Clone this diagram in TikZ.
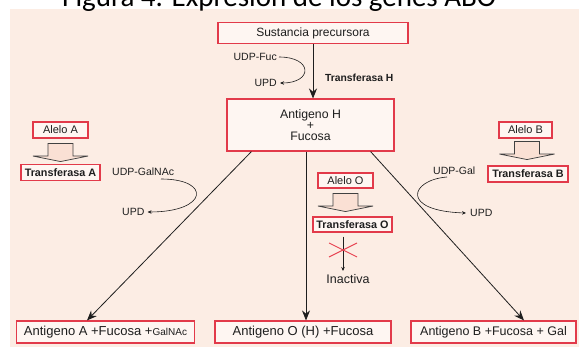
\documentclass[tikz,border=0pt]{standalone}
\usepackage{fontspec}
\setmainfont{Liberation Sans}
\newfontfamily\titlefont{Carlito}
\usetikzlibrary{arrows.meta,calc}
\definecolor{bg}{HTML}{FCEDE4}
\definecolor{boxred}{HTML}{E23A4A}
\definecolor{boxfill}{HTML}{FEF6F2}
\definecolor{blkfill}{HTML}{FAE0D4}
\definecolor{ink}{HTML}{1E1E1E}
\definecolor{xred}{HTML}{E8404F}
\newcommand{\fsz}[1]{\fontsize{#1}{#1}\selectfont}
\begin{document}
\begin{tikzpicture}[x=1pt,y=-1pt,
  rbox/.style={draw=boxred, line width=1.1pt, fill=boxfill, inner sep=0pt, text=ink, align=center},
  lbl/.style={inner sep=0pt, text=ink, font=\fsz{10.5}},
  arr/.style={draw=ink, line width=0.8pt, -{Stealth[length=10pt,width=8pt]}},
  sarr/.style={draw=ink, line width=0.6pt, -{Stealth[length=4pt,width=3.5pt]}},
  blk/.style={draw=ink!85, line width=0.7pt, fill=blkfill, line join=miter},
  blockarr/.pic={\draw[blk] (-12.5,0) -- (12.5,0) -- (12.5,12.5) -- (27.5,12.5) -- (0,18) -- (-27.5,12.5) -- (-12.5,12.5) -- cycle;}]
\useasboundingbox (0,0) rectangle (579,347);
\fill[bg] (10,9) rectangle (579,347);
\node[anchor=base west, inner sep=0pt, text=black, font=\titlefont\fsz{29}] (title) at (62,6.5) {Figura 4. Expresión de los genes ABO};

% main boxes
\node[rbox, minimum width=190pt, minimum height=21pt, font=\fsz{12}] (sust) at (313,33) {Sustancia precursora};
\node[rbox, minimum width=167pt, minimum height=52pt, font=\fontsize{12.3}{11}\selectfont] (antH) at (310.5,125) {Antigeno H\\+\\Fucosa};

% UDP-Fuc
\node[lbl, anchor=east] (udpfuc) at (277,57) {UDP-Fuc};
\node[lbl, anchor=east] (upd1) at (277,83) {UPD};
\node[lbl, anchor=west, font=\bfseries\fsz{10.3}] (trH) at (325,78) {Transferasa H};
\draw[arr] (sust.south -| 313,0) -- (313,98.5);
\draw[sarr] ([xshift=2pt]udpfuc.east) .. controls (313,57) and (313,83) .. ([xshift=3pt]upd1.east);

% Alelo A
\node[rbox, minimum width=55pt, minimum height=16pt, font=\fsz{11}] (alA) at (60.5,130) {Alelo A};
\pic at ([yshift=-5pt]alA.south) {blockarr};
\node[rbox, minimum width=79pt, minimum height=16pt, font=\bfseries\fsz{10.8}] (trA) at (60.5,172.5) {Transferasa A};

% Alelo O
\node[rbox, minimum width=55pt, minimum height=15pt, font=\fsz{11}] (alO) at (345.5,180.5) {Alelo O};
\pic at ([yshift=-5pt]alO.south) {blockarr};
\node[rbox, minimum width=79pt, minimum height=15pt, font=\bfseries\fsz{10.8}] (trO) at (352.5,224.5) {Transferasa O};
\node[inner sep=0pt, text=ink, font=\fsz{12.5}, anchor=north] (inact) at (348,274) {Inactiva};
\draw[sarr] ([xshift=-9.5pt,yshift=-4pt]trO.south) -- ([xshift=-5pt,yshift=3pt]inact.north);
\coordinate (xc) at (343,250);
\draw[xred, line width=0.9pt] ($(xc)+(-14,-7)$) -- ($(xc)+(14,7)$);
\draw[xred, line width=0.9pt] ($(xc)+(-14,7)$) -- ($(xc)+(14,-7)$);

% Alelo B
\node[rbox, minimum width=53pt, minimum height=16pt, font=\fsz{11}] (alB) at (525.5,130) {Alelo B};
\pic at ([yshift=-3pt,xshift=1.5pt]alB.south) {blockarr};
\node[rbox, minimum width=80pt, minimum height=16pt, font=\bfseries\fsz{10.8}] (trB) at (528,174) {Transferasa B};

% bottom boxes
\node[rbox, minimum width=178pt, minimum height=22pt, font=\fsz{13}] (antA) at (105.5,332) {Antigeno A +Fucosa +{\fsz{10}GalNAc}};
\node[rbox, minimum width=176pt, minimum height=22pt, font=\fsz{13}] (antO) at (303,332) {Antigeno O (H) +Fucosa};
\node[rbox, minimum width=165pt, minimum height=22pt, font=\fsz{12.5}] (antB) at (493.5,332) {Antigeno B +Fucosa + Gal};

% main diagonals
\draw[arr] ([xshift=25pt]antH.south west) -- ([xshift=-18.5pt]antA.north);
\draw[arr] ([xshift=-4.5pt]antH.south) -- ([xshift=3pt]antO.north);
\draw[arr] ([xshift=-24pt]antH.south east) -- ([xshift=30.5pt]antB.north);

% UDP-GalNAc
\node[lbl, anchor=west] (udpgalnac) at (112,172) {UDP-GalNAc};
\node[lbl, anchor=west] (upd2) at (122,212) {UPD};
\draw[sarr] (161,179) .. controls (212,179) and (208,212) .. ([xshift=3pt]upd2.east);

% UDP-Gal
\node[lbl, anchor=west] (udpgal) at (433,171) {UDP-Gal};
\node[lbl, anchor=west] (upd3) at (470,213) {UPD};
\draw[sarr] (447,177) .. controls (410,180) and (400,211) .. ([xshift=-4pt]upd3.west);
\end{tikzpicture}
\end{document}
